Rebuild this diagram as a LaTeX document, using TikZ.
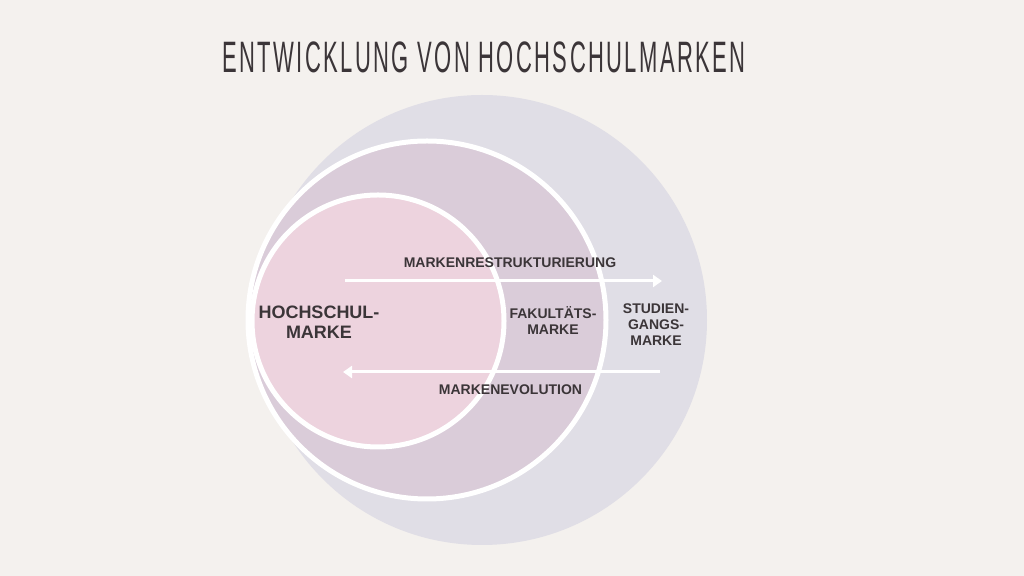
\documentclass[tikz,border=0pt]{standalone}
\usepackage{fontspec}
\setmainfont{Liberation Sans}
\newfontfamily\titlefont[FakeStretch=0.5, LetterSpace=5.5]{Liberation Sans}
\usetikzlibrary{arrows.meta}
\definecolor{bgc}{HTML}{F4F1EE}
\definecolor{outerc}{HTML}{E0DEE6}
\definecolor{middlec}{HTML}{DACCD9}
\definecolor{innerc}{HTML}{EDD3DE}
\definecolor{textc}{HTML}{3B3538}

\begin{document}
\begin{tikzpicture}[x = 0.5pt, y = -0.5pt,
	ring/.style = {circle, inner sep=0pt, draw = white, line width = 2.5pt},
	label/.style = {text = textc, font = \bfseries\fontsize{7}{8}\selectfont, align = center, inner sep=0pt},
	flow/.style = {draw = white, line width = 1.5pt, -{Triangle[length=4.5pt, width=6pt]}}]
	\useasboundingbox[fill = bgc] (0,0) rectangle (1024,576);
	\node[text = textc, font = \titlefont\fontsize{22}{24}\selectfont, inner sep=0pt] (title) at (484,57.5) {ENTWICKLUNG VON HOCHSCHULMARKEN};
	\node[circle, inner sep=0pt, fill = outerc, minimum size = 225pt] (studiengang) at (482,320) {};
	\node[ring, fill = middlec, minimum size = 179pt] (fakultaet) at (427,320) {};
	\node[ring, fill = innerc, minimum size = 126pt] (hochschule) at (378,321) {};
	\coordinate (R1) at (345,281);
	\coordinate (R2) at (662,281);
	\coordinate (E1) at (660,372);
	\coordinate (E2) at (343,372);
	\draw[flow] (R1) -- (R2);
	\draw[flow] (E1) -- (E2);
	\node[label] (restruk) at (510,263) {MARKENRESTRUKTURIERUNG};
	\node[label] (evol) at (510.5,390) {MARKENEVOLUTION};
	\node[label, font = \bfseries\fontsize{9}{10}\selectfont] (hsmarke) at (319,322) {HOCHSCHUL-\\MARKE};
	\node[label] (fkmarke) at (553,321) {FAKULTÄTS-\\MARKE};
	\node[label] (sgmarke) at (656,325) {STUDIEN-\\GANGS-\\MARKE};
\end{tikzpicture}
\end{document}
